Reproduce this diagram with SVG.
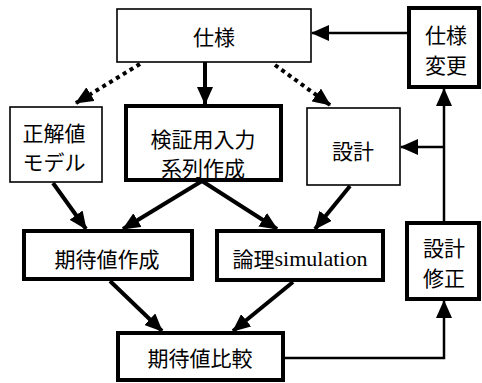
<svg xmlns="http://www.w3.org/2000/svg" width="482" height="383" viewBox="0 0 482 383">
<defs>
<style>
.thin{fill:#fff;stroke:#000;stroke-width:1.6}
.thick{fill:#fff;stroke:#000;stroke-width:4}
text{font-family:"Noto Sans CJK JP","Noto Sans",sans-serif;font-size:21px;fill:#000;text-anchor:middle;dominant-baseline:central}
.ser{font-family:"Liberation Serif",serif;font-size:22px}
.c{fill:none;stroke:#000;stroke-width:4}
.c2{fill:none;stroke:#000;stroke-width:2.5}
.dot{fill:none;stroke:#000;stroke-width:4;stroke-dasharray:4 4}
</style>
<marker id="ah" markerUnits="userSpaceOnUse" markerWidth="18" markerHeight="16" viewBox="0 0 18 16" refX="17" refY="8" orient="auto">
<path d="M0,0 L18,8 L0,16 Z" fill="#000"/>
</marker>
</defs>
<rect width="482" height="383" fill="#fff"/>
<g id="connectors">
<line class="c2" x1="408" y1="33" x2="312" y2="33" marker-end="url(#ah)"/>
<line class="c" x1="205" y1="62" x2="205" y2="104" marker-end="url(#ah)"/>
<line class="dot" x1="140" y1="64" x2="76" y2="103" marker-end="url(#ah)"/>
<line class="dot" x1="275" y1="65" x2="330" y2="105" marker-end="url(#ah)"/>
<line class="c" x1="53" y1="183" x2="86" y2="229" marker-end="url(#ah)"/>
<line class="c" x1="202" y1="181" x2="123" y2="229" marker-end="url(#ah)"/>
<line class="c" x1="202" y1="181" x2="277" y2="229" marker-end="url(#ah)"/>
<line class="c" x1="350" y1="186" x2="315" y2="229" marker-end="url(#ah)"/>
<line class="c" x1="110" y1="281" x2="162" y2="331" marker-end="url(#ah)"/>
<line class="c" x1="293" y1="282" x2="233" y2="331" marker-end="url(#ah)"/>
<path class="c2" d="M283,358 H444 V301" marker-end="url(#ah)"/>
<line class="c2" x1="444" y1="222" x2="444" y2="89" marker-end="url(#ah)"/>
<line class="c2" x1="444" y1="147" x2="401" y2="147" marker-end="url(#ah)"/>
</g>
<g id="spec"><rect class="thin" x="117" y="9" width="194" height="53"/><text x="214" y="36">仕様</text></g>
<g id="spec-change"><rect class="thick" x="409" y="8" width="70" height="79"/><text x="446" y="34">仕様</text><text x="446" y="64">変更</text></g>
<g id="model"><rect class="thin" x="10" y="107" width="92" height="75"/><text x="54" y="132">正解値</text><text x="54" y="161">モデル</text></g>
<g id="input"><rect class="thick" x="126" y="106" width="155" height="74"/><text x="203" y="138">検証用入力</text><text x="203" y="167">系列作成</text></g>
<g id="design"><rect class="thin" x="307" y="108" width="93" height="77"/><text x="353" y="150">設計</text></g>
<g id="expected"><rect class="thick" x="24" y="231" width="168" height="48"/><text x="107" y="258">期待値作成</text></g>
<g id="sim"><rect class="thick" x="217" y="231" width="166" height="49"/><text x="300" y="258">論理<tspan class="ser">simulation</tspan></text></g>
<g id="fix"><rect class="thick" x="407" y="223" width="72" height="76"/><text x="444" y="247">設計</text><text x="444" y="277">修正</text></g>
<g id="compare"><rect class="thick" x="118" y="333" width="165" height="47"/><text x="200" y="357">期待値比較</text></g>
</svg>
